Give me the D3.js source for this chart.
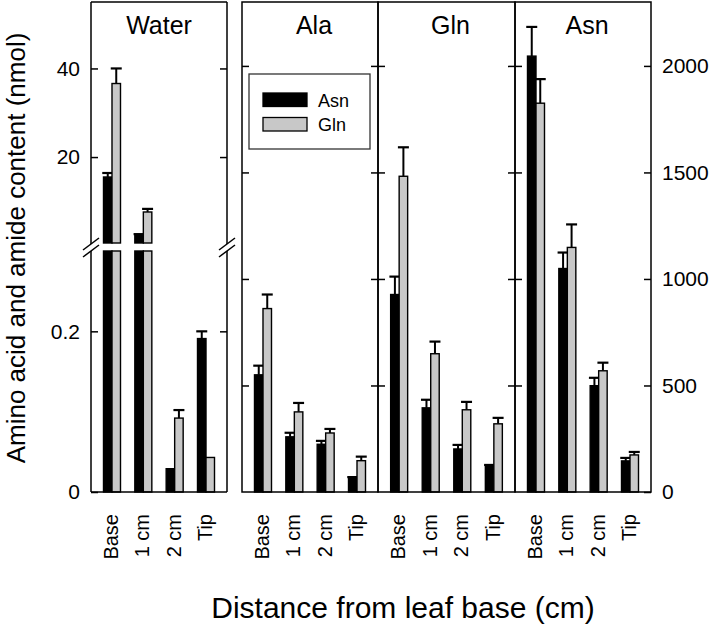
<!DOCTYPE html>
<html><head><meta charset="utf-8">
<script src="https://cdn.jsdelivr.net/npm/d3@7"></script>
<style>
body{margin:0;background:#fff}
svg{display:block}
text{font-family:"Liberation Sans",Arial,Helvetica,sans-serif;fill:#000}
</style>
</head><body>
<svg id="c" width="714" height="627"></svg>
<script>
// ---------- data ----------
const categories = ["Base", "1 cm", "2 cm", "Tip"];
const seriesNames = ["Asn", "Gln"];
const panelTitles = ["Water", "Ala", "Gln", "Asn"];

// Water panel (left axis, nmol, broken axis)
const waterAsn    = [15.5, 2.5, 0.029, 0.191];
const waterAsnErr = [0.9, 0.1, 0, 0.009];
const waterGln    = [36.6, 7.6, 0.092, 0.043];
const waterGlnErr = [3.4, 0.7, 0.010, 0];

// Ala, Gln, Asn panels (right axis)
const alaAsn    = [550, 259, 224, 64];
const alaAsnErr = [43, 19, 16, 6];
const alaGln    = [861, 376, 277, 147];
const alaGlnErr = [66, 42, 19, 19];

const glnAsn    = [927, 395, 202, 122];
const glnAsnErr = [84, 38, 19, 5];
const glnGln    = [1482, 649, 386, 320];
const glnGlnErr = [136, 57, 37, 28];

const asnAsn    = [2046, 1049, 499, 146];
const asnAsnErr = [137, 75, 37, 14];
const asnGln    = [1825, 1148, 569, 174];
const asnGlnErr = [113, 108, 38, 14];

const upperTicks = [20, 40];
const lowerTicks = [0, 0.2];
const rightTicks = [0, 500, 1000, 1500, 2000];

// ---------- layout ----------
const svg = d3.select("#c");
const plotTop = 2, plotBottom = 492;
const breakHi = 243, breakLo = 251;
const panelX = [[91, 227], [242, 378], [378, 515], [515, 651]];
const barW = 8.5;
const fills = {Asn: "#000000", Gln: "#c8c8c8"};

const yUpper = d3.scaleLinear().domain([0.6, 55]).range([breakHi, plotTop]);
const yLower = d3.scaleLinear().domain([0, 0.3]).range([plotBottom, breakLo]);
const yRight = d3.scaleLinear().domain([0, 2300]).range([plotBottom, plotTop]);

const panelData = [
  {Asn: waterAsn, AsnErr: waterAsnErr, Gln: waterGln, GlnErr: waterGlnErr},
  {Asn: alaAsn, AsnErr: alaAsnErr, Gln: alaGln, GlnErr: alaGlnErr},
  {Asn: glnAsn, AsnErr: glnAsnErr, Gln: glnGln, GlnErr: glnGlnErr},
  {Asn: asnAsn, AsnErr: asnAsnErr, Gln: asnGln, GlnErr: asnGlnErr}
];

function styleAxis(g, size) {
  g.select(".domain").remove();
  g.selectAll("line").attr("stroke", "#000").attr("stroke-width", 1.5);
  g.selectAll("text").attr("font-size", size).attr("font-family", '"Liberation Sans",Arial,sans-serif').attr("fill", "#000");
}

panelData.forEach((pd, pi) => {
  const [x0, x1] = panelX[pi];
  const x = d3.scalePoint().domain(categories).range([x0, x1]).padding(0.67);
  const g = svg.append("g");

  // bars
  seriesNames.forEach((s, si) => {
    categories.forEach((c, ci) => {
      const v = pd[s][ci], e = pd[s + "Err"][ci];
      const bx = x(c) + (si === 0 ? -barW : 0);
      const rects = [];
      let yTop, yErr;
      if (pi === 0) {
        if (v > yLower.domain()[1]) {
          rects.push([breakLo, plotBottom]);
          rects.push([yUpper(v), breakHi]);
          yTop = yUpper(v); yErr = yUpper(v + e);
        } else {
          rects.push([yLower(v), plotBottom]);
          yTop = yLower(v); yErr = yLower(v + e);
        }
      } else {
        rects.push([yRight(v), plotBottom]);
        yTop = yRight(v); yErr = yRight(v + e);
      }
      const cx = bx + barW / 2;
      if (e > 0) {
        g.append("line").attr("x1", cx).attr("x2", cx).attr("y1", yTop).attr("y2", yErr)
          .attr("stroke", "#000").attr("stroke-width", 2);
        g.append("line").attr("x1", cx - 5.5).attr("x2", cx + 5.5).attr("y1", yErr).attr("y2", yErr)
          .attr("stroke", "#000").attr("stroke-width", 2.2);
      }
      rects.forEach(([ya, yb]) => {
        g.append("rect").attr("x", bx).attr("y", ya).attr("width", barW).attr("height", yb - ya)
          .attr("fill", fills[s]).attr("stroke", "#000").attr("stroke-width", 1.4);
      });
    });
  });

  // frame
  const fr = g.append("g").attr("stroke", "#000").attr("stroke-width", 1.5).attr("fill", "none");
  if (pi === 0) {
    fr.append("line").attr("x1", x0).attr("x2", x1).attr("y1", plotTop).attr("y2", plotTop);
    fr.append("line").attr("x1", x0).attr("x2", x1).attr("y1", plotBottom).attr("y2", plotBottom);
    [x0, x1].forEach(xx => {
      fr.append("line").attr("x1", xx).attr("x2", xx).attr("y1", plotTop).attr("y2", breakHi + 1);
      fr.append("line").attr("x1", xx).attr("x2", xx).attr("y1", breakLo).attr("y2", plotBottom);
      fr.append("line").attr("x1", xx - 8).attr("y1", breakHi + 7).attr("x2", xx + 8).attr("y2", breakHi - 5);
      fr.append("line").attr("x1", xx - 8).attr("y1", breakLo + 6).attr("x2", xx + 8).attr("y2", breakLo - 6);
    });
  } else {
    fr.append("rect").attr("x", x0).attr("y", plotTop).attr("width", x1 - x0).attr("height", plotBottom - plotTop);
  }

  // ticks
  if (pi === 0) {
    const au = g.append("g").attr("transform", `translate(${x0},0)`)
      .call(d3.axisLeft(yUpper).tickValues(upperTicks).tickSizeInner(-7).tickSizeOuter(0).tickPadding(11).tickFormat(d3.format("d")));
    styleAxis(au, 21);
    const al = g.append("g").attr("transform", `translate(${x0},0)`)
      .call(d3.axisLeft(yLower).tickValues(lowerTicks).tickSizeInner(-7).tickSizeOuter(0).tickPadding(11).tickFormat(d => d === 0 ? "0" : d3.format(".1f")(d)));
    styleAxis(al, 21);
    const ru = g.append("g").attr("transform", `translate(${x1},0)`)
      .call(d3.axisRight(yUpper).tickValues(upperTicks).tickSizeInner(-7).tickSizeOuter(0).tickFormat(""));
    styleAxis(ru, 21);
    const rl = g.append("g").attr("transform", `translate(${x1},0)`)
      .call(d3.axisRight(yLower).tickValues(lowerTicks.filter(t => t > 0)).tickSizeInner(-7).tickSizeOuter(0).tickFormat(""));
    styleAxis(rl, 21);
  } else {
    const inner = rightTicks.filter(t => t > 0);
    const la = g.append("g").attr("transform", `translate(${x0},0)`)
      .call(d3.axisLeft(yRight).tickValues(inner).tickSizeInner(-7).tickSizeOuter(0).tickFormat(""));
    styleAxis(la, 21);
    const ra = g.append("g").attr("transform", `translate(${x1},0)`)
      .call(d3.axisRight(yRight).tickValues(pi === 3 ? rightTicks : inner).tickSizeInner(-7).tickSizeOuter(0).tickPadding(11)
        .tickFormat(pi === 3 ? d3.format("d") : ""));
    styleAxis(ra, 21);
  }

  // x labels
  categories.forEach(c => {
    g.append("text").attr("transform", `translate(${x(c) - 1},514) rotate(-90)`)
      .attr("text-anchor", "end").attr("dy", "0.35em").attr("font-size", 20).text(c);
  });

  // title
  g.append("text").attr("x", (x0 + x1) / 2 + (pi === 0 ? 0 : 4)).attr("y", 34)
    .attr("text-anchor", "middle").attr("font-size", 25).text(panelTitles[pi]);
});

// legend
const lg = svg.append("g");
lg.append("rect").attr("x", 249).attr("y", 74).attr("width", 121).attr("height", 75)
  .attr("fill", "#fff").attr("stroke", "#333").attr("stroke-width", 1.3);
seriesNames.forEach((s, i) => {
  lg.append("rect").attr("x", 263).attr("y", 93 + i * 24.5).attr("width", 44).attr("height", 13.5)
    .attr("fill", fills[s]).attr("stroke", "#000").attr("stroke-width", 1.3);
  lg.append("text").attr("x", 318).attr("y", 106.5 + i * 24.5).attr("font-size", 18).text(s);
});

// axis titles
svg.append("text").attr("transform", "translate(25,248) rotate(-90)")
  .attr("text-anchor", "middle").attr("font-size", 26).text("Amino acid and amide content (nmol)");
svg.append("text").attr("x", 403).attr("y", 618)
  .attr("text-anchor", "middle").attr("font-size", 30).text("Distance from leaf base (cm)");
</script>
</body></html>
